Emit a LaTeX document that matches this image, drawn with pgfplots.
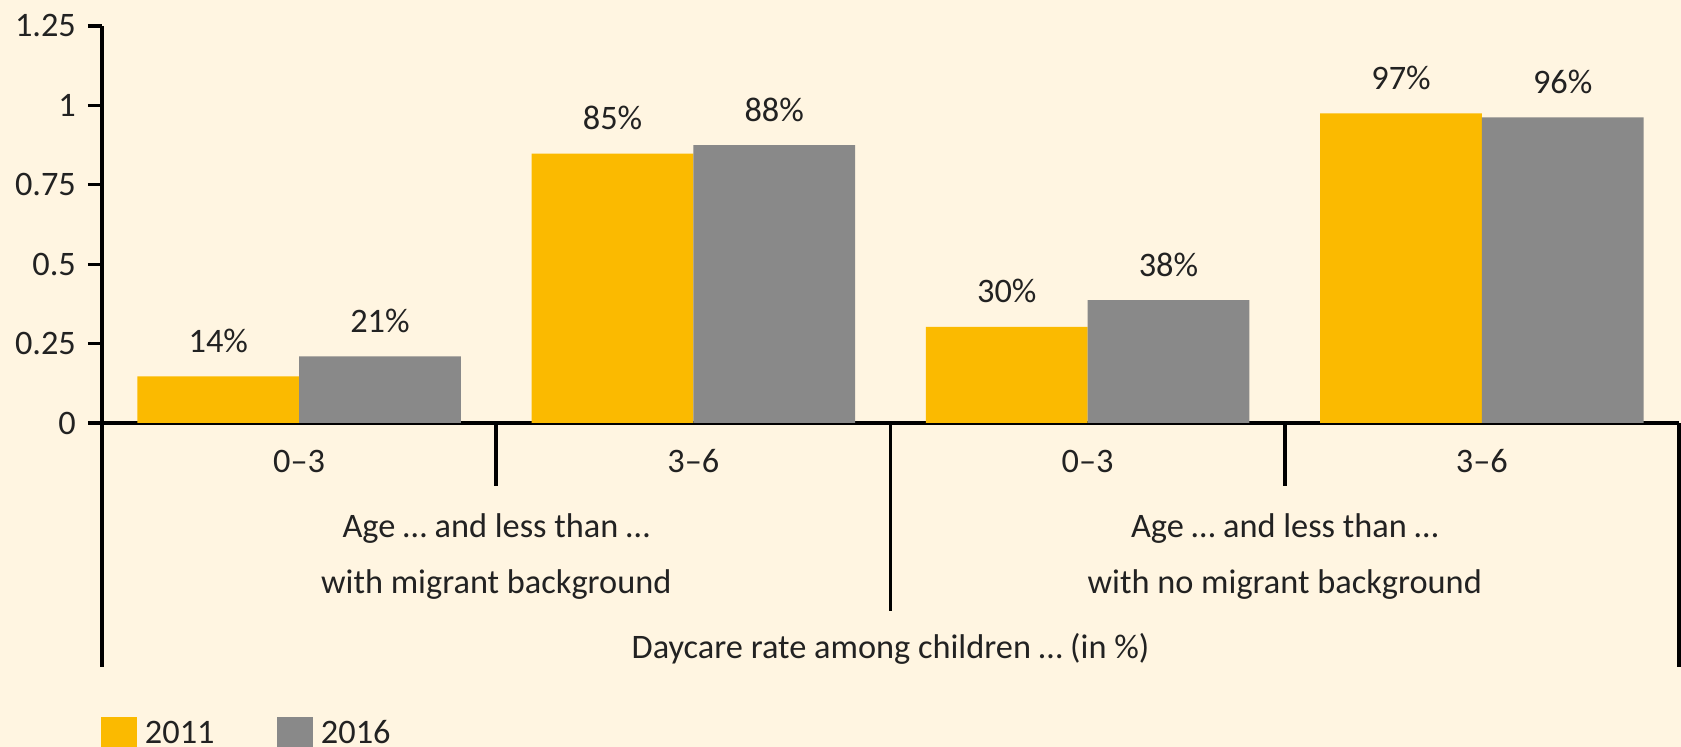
\documentclass[border=0pt]{standalone}
\usepackage{pgfplots}
\pgfplotsset{compat=1.18}
\usepackage{fontspec}
\setmainfont{Carlito}
\definecolor{bg}{HTML}{FFF5E1}
\definecolor{c2011}{HTML}{FBBA00}
\definecolor{c2016}{HTML}{898989}
\definecolor{txt}{HTML}{222222}
\begin{document}
\fontsize{10.3pt}{12pt}\selectfont
\begin{tikzpicture}
\fill[bg] (-30.6pt,-97.2pt) rectangle (473.7pt,126.9pt);
\begin{axis}[
  at={(0pt,0pt)}, anchor=south west,
  scale only axis, width=473.1pt, height=119.1pt,
  xmin=-0.5, xmax=3.5, ymin=0, ymax=1.25,
  axis lines=left,
  axis line style={-, line width=1.2pt, black},
  clip=false,
  tick align=outside,
  major tick length=4.2pt,
  ytick={0,0.25,0.5,0.75,1,1.25},
  yticklabels={0,0.25,0.5,0.75,1,1.25},
  ytick style={line width=1pt, black},
  xtick={0,1,2,3},
  xticklabels={0–3,3–6,0–3,3–6},
  xtick style={draw=none},
  xticklabel style={anchor=base, yshift=-10.8pt},
  tick label style={text=txt},
  ybar, bar width=0.41,
  point meta=explicit symbolic,
  nodes near coords,
  every node near coord/.append style={anchor=base, yshift=7.2pt, text=txt},
  legend columns=2,
  legend style={at={(-0.00127,-0.738)}, anchor=north west, draw=none, fill=none,
    inner sep=0pt, nodes={inner sep=0pt, text=txt},
    /tikz/every even column/.append style={column sep=18.6pt},
    /tikz/every odd column/.append style={column sep=2.4pt}},
]
\addplot[fill=c2011, draw=none, bar shift=-0.205, forget plot] coordinates {
  (0,0.147) [14\%] (1,0.848) [85\%] (2,0.303) [30\%] (3,0.975) [97\%]};
\addplot[fill=c2016, draw=none, bar shift=0.205, forget plot] coordinates {
  (0,0.210) [21\%] (1,0.875) [88\%] (2,0.387) [38\%] (3,0.962) [96\%]};
\addlegendimage{legend image code/.code={\fill[c2011] (0pt,-5.25pt) rectangle (10.5pt,5.25pt);}}
\addlegendentry{2011}
\addlegendimage{legend image code/.code={\fill[c2016] (0pt,-5.25pt) rectangle (10.5pt,5.25pt);}}
\addlegendentry{2016}
% frame lines below the axis
\draw[line width=1.2pt] (axis cs:-0.5,0) -- ++(0pt,-73.2pt);
\draw[line width=1.2pt] (axis cs:3.5,0) -- ++(0pt,-73.2pt);
\draw[line width=1.1pt] (axis cs:0.5,0) -- ++(0pt,-18.9pt);
\draw[line width=1.1pt] (axis cs:2.5,0) -- ++(0pt,-18.9pt);
\draw[line width=1.1pt] (axis cs:1.5,0) -- ++(0pt,-56.4pt);
% group labels
\node[anchor=base, text=txt] at (axis cs:0.5,0) [yshift=-34.5pt] {Age … and less than …};
\node[anchor=base, text=txt] at (axis cs:0.5,0) [yshift=-51.3pt] {with migrant background};
\node[anchor=base, text=txt] at (axis cs:2.5,0) [yshift=-34.5pt] {Age … and less than …};
\node[anchor=base, text=txt] at (axis cs:2.5,0) [yshift=-51.3pt] {with no migrant background};
\node[anchor=base, text=txt] at (axis cs:1.5,0) [yshift=-70.8pt] {Daycare rate among children … (in \%)};
\end{axis}
\pgfresetboundingbox
\useasboundingbox (-30.6pt,-97.2pt) rectangle (473.7pt,126.9pt);
\end{tikzpicture}
\end{document}
